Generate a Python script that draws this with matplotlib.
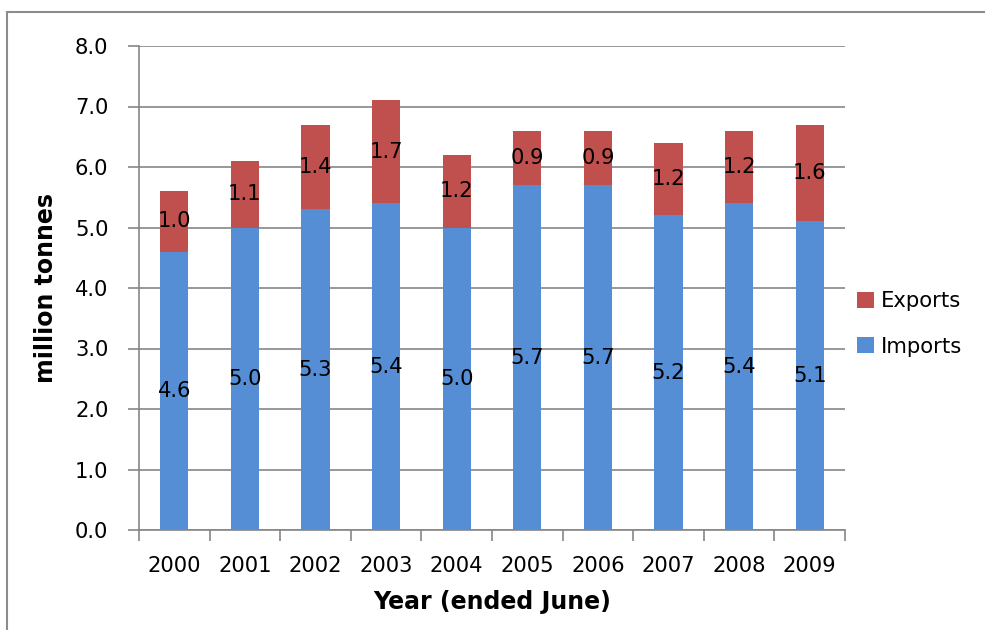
import matplotlib
matplotlib.use("Agg")
import matplotlib.pyplot as plt
from matplotlib.patches import Rectangle
import numpy as np

years = ["2000", "2001", "2002", "2003", "2004", "2005", "2006", "2007", "2008", "2009"]
imports = [4.6, 5.0, 5.3, 5.4, 5.0, 5.7, 5.7, 5.2, 5.4, 5.1]
exports = [1.0, 1.1, 1.4, 1.7, 1.2, 0.9, 0.9, 1.2, 1.2, 1.6]

c_imp = "#558ED5"
c_exp = "#C0504D"
grid_c = "#868686"

fig = plt.figure(figsize=(9.85, 6.3), dpi=100)
W, H = 985, 630
ax = fig.add_axes([139 / W, 1 - 530 / H, (845 - 139) / W, (530 - 46) / H])

x = np.arange(len(years))
bw = 0.4
ax.bar(x, imports, bw, color=c_imp, label="Imports", zorder=3)
ax.bar(x, exports, bw, bottom=imports, color=c_exp, label="Exports", zorder=3)

fs = 15.2
for i in range(len(years)):
    ax.text(x[i], imports[i] / 2, f"{imports[i]:.1f}", ha="center", va="center", fontsize=fs, zorder=4)
    ax.text(x[i], imports[i] + exports[i] / 2, f"{exports[i]:.1f}", ha="center", va="center", fontsize=fs, zorder=4)

ax.set_xlim(-0.5, len(years) - 0.5)
ax.set_ylim(0, 8)
ax.set_yticks(np.arange(0, 8.01, 1.0))
ax.set_yticklabels([f"{v:.1f}" for v in np.arange(0, 8.01, 1.0)], fontsize=fs)
ax.set_xticks(x)
ax.set_xticklabels(years, fontsize=fs)
ax.set_xticks(np.arange(-0.5, len(years), 1.0), minor=True)
ax.tick_params(axis="x", which="major", length=0, pad=19)
ax.tick_params(axis="x", which="minor", length=8, color=grid_c, width=1.2)
ax.tick_params(axis="y", length=8, color=grid_c, width=1.2, pad=14)
ax.yaxis.grid(True, color=grid_c, linewidth=1.2, zorder=0)
for s in ["top", "right"]:
    ax.spines[s].set_visible(False)
for s in ["left", "bottom"]:
    ax.spines[s].set_color(grid_c)
    ax.spines[s].set_linewidth(1.2)

ax.set_ylabel("million tonnes", fontsize=17, fontweight="bold", labelpad=12)
ax.set_xlabel("Year (ended June)", fontsize=17, fontweight="bold", labelpad=10)

handles, labels = ax.get_legend_handles_labels()
fig.legend(handles[::-1], labels[::-1], loc="center left", bbox_to_anchor=(838 / W, 1 - 324 / H),
           frameon=False, fontsize=fs, handlelength=0.8, handleheight=0.8, handletextpad=0.35,
           labelspacing=1.2)

fig.patches.append(Rectangle((7 / W, -0.01), 1.02 - 7 / W, 1 - 12 / H + 0.01, transform=fig.transFigure,
                             fill=False, edgecolor="#8c8c8c", linewidth=1.5))

fig.savefig("out.png", dpi=100)
